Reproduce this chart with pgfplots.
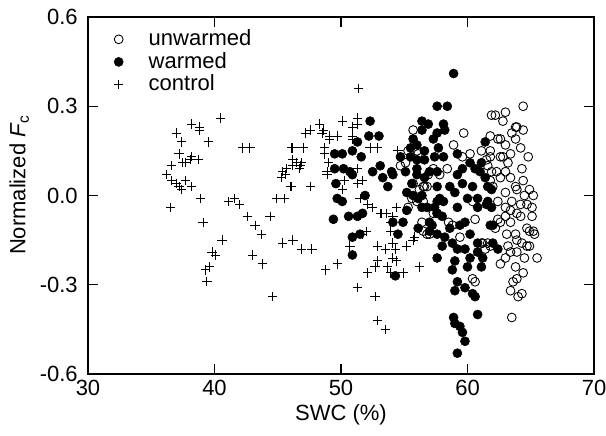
\documentclass[border=0pt]{standalone}
\usepackage{fontspec}
\setmainfont{Liberation Sans}
\usepackage{pgfplots}
\pgfplotsset{compat=1.18}
\begin{document}
\fontsize{16.5pt}{19pt}\selectfont
\begin{tikzpicture}
\useasboundingbox (-66pt,-45.75pt) rectangle (388.5pt,280.5pt);
\begin{axis}[
  at={(0pt,0pt)}, anchor=south west,
  scale only axis, width=379.5pt, height=267.75pt,
  xmin=30, xmax=70, ymin=-0.6, ymax=0.6,
  xtick={30,40,50,60,70}, xticklabels={30,40,50,60,70},
  ytick={-0.6,-0.3,0,0.3,0.6}, yticklabels={-0.6,-0.3,0.0,0.3,0.6},
  xtick pos=both, ytick pos=both,
  tick align=inside,
  major tick length=7.5pt,
  axis line style={line width=0.8pt},
  tick style={line width=0.8pt, black},
  /pgf/number format/assume math mode=true,
  ticklabel style={font=\fontsize{16.5pt}{19pt}\selectfont},
  yticklabel style={xshift=-2pt},
  xticklabel style={yshift=1pt},
  xlabel={SWC (\%)},
  ylabel={Normalized \textit{F}\textsubscript{c}},
  label style={font=\fontsize{16.5pt}{19pt}\selectfont},
  xlabel style={at={(axis description cs:0.5,-0.113)}, anchor=center},
  ylabel style={at={(axis description cs:-0.136,0.53)}, anchor=center},
  legend style={at={(axis description cs:0.043,0.98)}, anchor=north west,
    draw=none, fill=none, font=\fontsize{16.5pt}{19pt}\selectfont,
    row sep=-1.5pt,
    /tikz/every odd column/.append style={column sep=17pt}},
  legend cell align=left,
]
% unwarmed
\addplot[only marks, mark=o, mark size=3.3pt, mark options={line width=0.65pt, draw=black, fill=none}] coordinates {
(64.4,0.30)(62.2,0.27)(62.8,0.25)(63.8,0.23)(63.5,0.21)(62.4,0.19)(63.0,0.17)(64.2,0.16)
(64.8,0.13)(62.8,0.13)(63.2,0.11)(64.3,0.09)(62.6,0.06)(63.4,0.06)(64.4,0.05)(64.9,0.02)
(65.2,0.00)(63.9,0.02)(63.0,0.01)(62.4,-0.02)(63.5,-0.02)(64.2,-0.03)(64.7,-0.03)(65.1,-0.07)
(63.0,-0.07)(63.9,-0.06)(63.4,-0.09)(64.7,-0.11)(65.2,-0.12)(62.6,-0.09)(63.8,-0.13)(64.3,-0.16)
(63.2,-0.17)(63.9,-0.19)(65.5,-0.21)(63.4,-0.19)(64.7,-0.17)(63.8,-0.24)(64.4,-0.26)(63.9,-0.28)
(63.6,-0.29)(63.4,-0.32)(64.3,-0.33)(64.0,-0.34)(63.5,-0.41)(59.7,0.21)(63.9,0.23)(61.8,0.20)
(62.6,0.19)(58.9,0.17)(59.6,0.13)(60.2,0.14)(61.1,0.15)(61.8,0.13)(62.6,0.13)(63.4,0.14)
(56.6,0.03)(58.4,0.09)(57.8,0.07)(57.3,-0.06)(56.4,-0.09)(57.0,-0.13)(62.2,-0.11)(63.1,-0.13)
(63.9,-0.15)(64.9,-0.12)(61.2,-0.16)(61.8,-0.17)(63.0,-0.21)(60.4,-0.28)(60.6,-0.29)(65.1,-0.04)
(65.3,-0.13)(63.0,-0.04)(62.4,-0.08)(62.0,0.03)(62.3,0.08)(61.5,0.12)(55.7,0.22)(54.7,0.10)
(55.1,0.11)(56.1,0.14)(56.5,0.03)(56.2,0.02)(56.8,0.03)(56.5,-0.02)(56.8,-0.13)(56.9,0.07)
(57.3,0.09)(55.3,-0.04)(55.3,0.15)(56.0,0.15)(57.6,-0.06)(61.9,0.27)(61.8,0.15)(55.7,0.04)
(55.6,-0.01)(56.0,-0.02)(60.4,-0.02)(61.6,0.10)(61.9,0.08)(61.8,0.05)(56.5,-0.12)(58.5,-0.09)
(58.8,-0.10)(60.6,-0.08)(61.1,-0.16)(61.6,-0.16)(61.4,-0.18)(59.4,-0.14)(63.0,0.08)(63.8,0.03)
(64.5,0.00)(63.4,-0.05)(64.2,-0.07)(64.9,-0.17)(64.5,-0.21)(62.6,-0.23)(63.8,0.19)(64.4,0.22)
(63.0,0.28)
};
\addlegendentry{unwarmed}
% warmed
\addplot[only marks, mark=*, mark size=3.4pt, mark options={draw=black, fill=black}] coordinates {
(58.9,0.41)(57.6,0.30)(58.4,0.30)(52.3,0.25)(52.2,0.20)(53.0,0.20)(51.3,0.18)(50.1,0.14)
(50.9,0.15)(51.6,0.13)(50.2,0.09)(50.7,0.08)(50.9,0.07)(52.5,0.08)(53.1,0.10)(53.3,0.06)
(53.7,0.03)(54.0,0.08)(49.6,0.04)(49.7,-0.01)(50.1,-0.02)(49.4,-0.08)(50.6,-0.07)(51.3,-0.07)
(51.7,-0.06)(51.9,0.00)(50.9,-0.14)(51.5,-0.13)(50.9,-0.20)(54.3,-0.27)(54.1,-0.09)(54.5,-0.13)
(54.9,-0.09)(55.2,-0.05)(55.2,0.01)(55.7,0.00)(56.4,0.00)(56.8,-0.04)(56.1,-0.11)(57.0,-0.09)
(57.6,-0.13)(57.6,-0.21)(56.4,0.25)(56.9,0.24)(56.4,0.22)(57.6,0.21)(55.7,0.19)(56.0,0.17)
(57.3,0.19)(55.5,0.13)(54.7,0.13)(55.1,0.08)(56.0,0.09)(56.6,0.12)(57.0,0.08)(57.6,0.08)
(54.1,0.07)(57.6,0.03)(57.6,-0.02)(57.6,-0.06)(56.4,-0.04)(55.5,0.16)(58.1,0.24)(58.2,0.22)
(56.6,0.15)(57.7,0.16)(59.2,0.14)(61.4,0.18)(56.0,0.12)(57.4,0.13)(58.1,0.13)(60.2,0.11)
(60.6,0.09)(61.1,0.11)(61.0,0.08)(61.4,0.06)(59.6,0.09)(59.2,0.07)(56.0,0.07)(56.6,0.06)
(58.6,0.03)(59.6,0.04)(60.4,0.03)(61.6,0.03)(55.6,0.04)(56.1,-0.01)(57.8,-0.01)(59.0,0.01)
(60.0,-0.01)(60.8,-0.01)(61.6,-0.02)(59.2,-0.04)(57.4,-0.04)(58.1,-0.02)(60.8,-0.04)(61.5,-0.03)
(57.2,-0.10)(58.0,-0.07)(58.6,-0.11)(59.4,-0.10)(59.8,-0.09)(60.2,-0.13)(61.8,-0.10)(57.0,-0.12)
(58.2,-0.14)(58.0,-0.17)(58.8,-0.16)(59.2,-0.18)(59.8,-0.18)(60.8,-0.16)(60.2,-0.21)(60.8,-0.19)
(61.2,-0.21)(59.0,-0.22)(58.8,-0.25)(60.0,-0.24)(61.1,-0.24)(59.2,-0.29)(59.8,-0.31)(59.0,-0.32)
(60.4,-0.33)(60.6,-0.34)(60.8,-0.40)(58.9,-0.41)(59.0,-0.43)(59.4,-0.44)(59.6,-0.46)(59.8,-0.49)
(59.2,-0.53)(62.4,-0.18)(61.9,0.02)(61.9,-0.04)(62.0,-0.10)(62.0,-0.16)(49.5,0.14)(49.5,0.09)
};
\addlegendentry{warmed}
% control
\addplot[only marks, mark=+, mark size=3.5pt, mark options={line width=0.7pt, black}] coordinates {
(38.2,0.24)(38.8,0.23)(38.8,0.22)(40.5,0.26)(37.0,0.21)(37.4,0.18)(39.5,0.18)(42.2,0.16)
(42.8,0.16)(37.2,0.14)(38.2,0.13)(37.7,0.11)(37.5,0.11)(38.1,0.12)(38.7,0.12)(36.6,0.10)
(36.2,0.07)(36.6,0.05)(37.0,0.04)(37.4,0.02)(37.2,0.03)(37.7,0.05)(38.2,0.03)(38.9,-0.01)
(36.5,-0.04)(41.1,-0.02)(41.6,-0.01)(42.0,-0.03)(42.6,-0.07)(43.2,-0.10)(39.1,-0.09)(40.6,-0.15)
(39.8,-0.19)(40.1,-0.20)(43.0,-0.20)(39.6,-0.24)(39.3,-0.25)(39.4,-0.29)
(43.7,-0.13)(43.8,-0.23)(44.6,-0.34)(45.4,-0.16)(46.2,-0.15)(44.4,-0.07)(44.9,-0.01)(45.5,-0.01)
(46.1,0.03)(45.3,0.06)(45.6,0.07)(45.7,0.09)(46.2,0.10)(46.2,0.16)(46.2,0.12)(46.5,0.11)
(47.2,0.21)(47.6,0.22)(48.3,0.24)(48.5,0.21)(49.1,0.20)(49.7,0.20)(46.1,0.16)(47.0,0.16)
(48.7,0.16)(48.7,0.14)(49.0,0.11)(46.9,0.11)(46.7,0.09)(45.4,0.08)(48.9,0.08)(46.0,0.03)
(47.6,0.03)(46.9,-0.18)(47.7,-0.18)(48.8,-0.25)(49.7,-0.23)
(51.4,0.36)(50.1,0.25)(51.3,0.26)(51.3,0.24)(48.6,0.22)(49.1,0.19)(50.9,0.20)(50.9,0.19)
(52.3,0.16)(52.9,0.16)(46.8,0.10)(48.9,0.07)(51.3,0.09)(50.3,0.05)(51.3,0.04)(51.7,0.05)
(50.1,0.02)(54.5,0.15)(52.1,-0.03)(52.5,-0.04)(53.1,-0.06)(53.6,-0.06)(54.1,-0.07)(54.4,-0.04)
(53.9,-0.09)(53.9,-0.12)(54.1,-0.16)(52.0,-0.12)(50.7,-0.17)(52.9,-0.17)(53.5,-0.18)(54.3,-0.18)
(55.2,-0.17)(55.8,-0.14)(54.1,-0.21)(54.4,-0.22)(52.9,-0.22)(52.7,-0.24)(53.7,-0.24)(53.9,-0.26)
(54.9,-0.26)(56.2,-0.24)(52.1,-0.26)(51.3,-0.31)(52.7,-0.34)(52.9,-0.42)(53.5,-0.45)(51.7,-0.13)
(53.2,-0.06)(55.7,-0.15)(50.9,0.23)(51.5,-0.01)
};
\addlegendentry{control}
\end{axis}
\end{tikzpicture}
\end{document}
